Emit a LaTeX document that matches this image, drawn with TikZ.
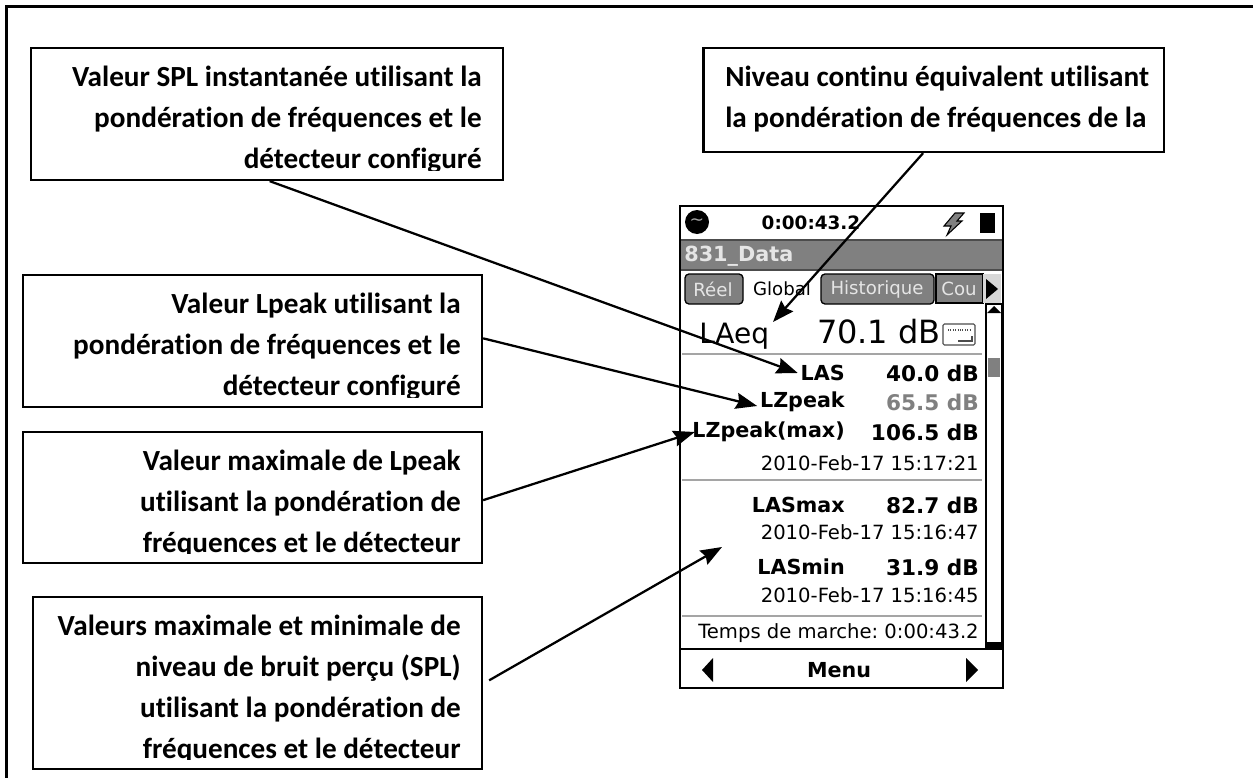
\documentclass[tikz,border=0pt]{standalone}
\usepackage{fontspec}
\setmainfont{Carlito}[RawFeature={-liga;-clig;-calt}]
\newfontfamily\scrfont{DejaVu Sans}
\usepackage{tikz}
\usetikzlibrary{positioning, arrows.meta, fit}
\definecolor{scrgray}{RGB}{128,128,128}
\definecolor{sepgray}{RGB}{165,165,165}
\definecolor{btngray}{RGB}{215,215,215}
\tikzset{
    callout/.style={draw=black, line width=1.7pt, inner sep=0pt},
    calltext/.style={font=\fontsize{21.9}{30.75}\selectfont\bfseries, inner sep=0pt},
    pointer/.style={-{Stealth[length=16pt,width=12pt,inset=2pt]}, line width=1.7pt, black},
    scrbold/.style={font=\scrfont\fontsize{15.5}{18}\selectfont\bfseries, inner sep=0pt, anchor=east},
    scrvalue/.style={font=\scrfont\fontsize{16.2}{18}\selectfont\bfseries, inner sep=0pt, anchor=east},
    scrtime/.style={font=\scrfont\fontsize{14.7}{16}\selectfont, inner sep=0pt, anchor=east},
    scrtab/.style={draw=black, line width=1pt, fill=scrgray, rounded corners=3pt},
    tablabel/.style={font=\scrfont\fontsize{13.6}{16}\selectfont, inner sep=0pt, text=white!90!black},
    sepline/.style={draw=sepgray, line width=1pt}
}
\begin{document}
\begin{tikzpicture}[x=0.75pt,y=-0.75pt]
    \useasboundingbox (0,0) rectangle (1253,778);
    \draw [line width=1.7pt] (6.5,778) -- (6.5,6.5) -- (1253,6.5);
    \foreach \name/\xa/\ya/\xb/\yb/\nl/\txt in {
        instant/31/48/503/180/2/{Valeur SPL instantanée utilisant la\\pondération de fréquences et le\\détecteur configuré},
        lpeak/23/275/482/407/2/{Valeur Lpeak utilisant la\\pondération de fréquences et le\\détecteur configuré},
        lpeakmax/23/432/482/563/2/{Valeur maximale de Lpeak\\utilisant la pondération de\\fréquences et le détecteur},
        splrange/33/597/482/769/3/{Valeurs maximale et minimale de\\niveau de bruit perçu (SPL)\\utilisant la pondération de\\fréquences et le détecteur}} {
        \node [callout, fit={(\xa,\ya) (\xb,\yb)}] (\name) {};
        \begin{scope}
            \clip (\xa,\ya) rectangle (\xb,\yb-10);
            \node [calltext, align=right, anchor=base east] (\name-txt) at (\xb-21,\ya+38+41*\nl) {\txt};
        \end{scope}
    }
    \node [callout, fit={(703.5,48) (1164,152)}] (leq) {};
    \node [calltext, align=left, anchor=base west] (leq-txt) at (725,127) {Niveau continu équivalent utilisant\\la pondération de fréquences de la};

    \draw [line width=1.5pt] (680,206) rectangle (1003,688);
    \fill [scrgray] (681,240) rectangle (1002,270);
    \draw [line width=.8pt, black!70] (681,240) -- (1002,240) (681,270) -- (1002,270);
    \fill [black] (697,222) circle (12);
    \node [font=\scrfont\fontsize{13}{14}\selectfont, text=sepgray, inner sep=0pt] (mode) at (697,222) {\textasciitilde};
    \node [font=\scrfont\fontsize{13.8}{16}\selectfont\bfseries, inner sep=0pt] (clock) at (811,223) {0:00:43.2};
    \draw [fill=scrgray, draw=black, line width=.8pt] (955,213) -- (964,213) -- (957,221) -- (962,221) -- (947,235) -- (951,226) -- (944,226) -- cycle;
    \fill [black] (980,213) rectangle (995,233);
    \node [font=\scrfont\fontsize{15.6}{16}\selectfont\bfseries, text=white!90!black, inner sep=0pt, anchor=west] (project) at (684,256) {831\_Data};

    \draw [scrtab] (685,304) -- (685,274) -- (743,274) -- (743,304) -- cycle;
    \draw [scrtab] (821,304) -- (821,274) -- (934,274) -- (934,304) -- cycle;
    \draw [scrtab, rounded corners=0pt] (936,303) -- (936,274) -- (983,274) -- (983,303) -- cycle;
    \fill [btngray] (983,274) rectangle (1001,303);
    \fill [black] (986,279) -- (998,289) -- (986,299) -- cycle;
    \node [tablabel] (reel) at (713,289) {Réel};
    \node [tablabel, text=black] (global) at (782,289) {Global};
    \node [tablabel] (histo) at (877,289) {Historique};
    \node [tablabel] (cou) at (959,289) {Cou};

    \draw [line width=1.2pt] (986,304) rectangle (1002,649);
    \fill [black] (994,306) -- (1001,313) -- (987,313) -- cycle;
    \fill [scrgray] (988,358) rectangle (1000,377);
    \fill [black] (987,642) -- (1001,642) -- (1001,649) -- (987,649) -- cycle;

    \node [font=\scrfont\fontsize{21}{22}\selectfont, inner sep=0pt, anchor=base west] (laeq) at (699,343) {LAeq};
    \node [font=\scrfont\fontsize{24}{26}\selectfont, inner sep=0pt, anchor=base east] (laeqval) at (941,343) {70.1 dB};
    \draw [line width=.8pt, draw=black!70, rounded corners=1pt] (943,324) rectangle (975,345);
    \draw [densely dotted, line width=.8pt, draw=black!70] (948,330) -- (970,330);
    \draw [line width=.8pt, draw=black!70] (958,341) -- (972,341) -- (972,336);
    \draw [sepline] (682,354) -- (982,354);

    \node [scrbold] (las) at (845,373) {LAS};
    \node [scrvalue] (lasval) at (979,373) {40.0 dB};
    \node [scrbold] (lzpeak) at (845,402) {LZpeak};
    \node [scrvalue, text=scrgray] (lzpeakval) at (979,402) {65.5 dB};
    \node [scrbold] (lzmax) at (845,432) {LZpeak(max)};
    \node [scrvalue] (lzmaxval) at (979,432) {106.5 dB};
    \node [scrtime] (lzmaxtime) at (979,463) {2010-Feb-17 15:17:21};
    \draw [sepline] (682,480) -- (982,480);
    \node [scrbold] (lasmax) at (845,505) {LASmax};
    \node [scrvalue] (lasmaxval) at (979,505) {82.7 dB};
    \node [scrtime] (lasmaxtime) at (979,532) {2010-Feb-17 15:16:47};
    \node [scrbold] (lasmin) at (845,567) {LASmin};
    \node [scrvalue] (lasminval) at (979,567) {31.9 dB};
    \node [scrtime] (lasmintime) at (979,595) {2010-Feb-17 15:16:45};
    \draw [sepline] (682,616) -- (982,616);
    \node [scrtime] (runtime) at (979,633) {Temps de marche:\ 0:00:43.2};
    \draw [line width=1.2pt] (681,649) -- (1002,649);
    \fill [black] (713,658) -- (713,682) -- (702,670) -- cycle;
    \node [scrbold, anchor=center] (menu) at (839,670) {Menu};
    \fill [black] (966,658) -- (966,682) -- (978,670) -- cycle;

    \coordinate (lasgap) at (722,547);
    \coordinate (laeqtop) at (773,322);
    \draw [pointer] ([xshift=2pt]instant.south) -- ([xshift=-2pt]las.west);
    \draw [pointer] ([yshift=2pt]lpeak.east) -- ([xshift=-2pt,yshift=-3pt]lzpeak.west);
    \draw [pointer] ([yshift=-2pt]lpeakmax.east) -- ([xshift=2pt]lzmax.west);
    \draw [pointer] ([xshift=4.5pt,yshift=2pt]splrange.east) -- (lasgap);
    \draw [pointer] ([xshift=-8pt]leq.south) -- (laeqtop);
\end{tikzpicture}
\end{document}
